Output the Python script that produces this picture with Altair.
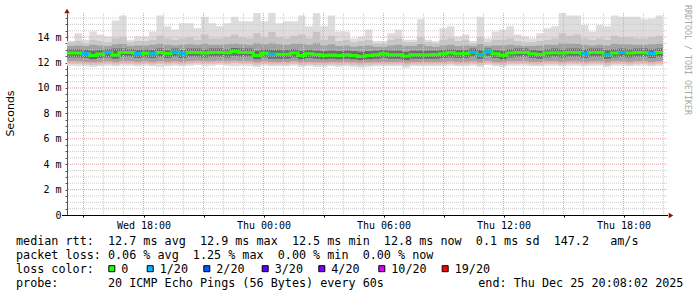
import altair as alt
import pandas as pd

# ---------------- data ----------------
# 80 consolidated time columns, Wed 14:10 .. Thu 20:00 (values in ms)
median_ms = [
    12.76, 12.76, 12.70, 12.56, 12.68, 12.80, 12.60, 12.80, 12.80, 12.70,
    12.74, 12.70, 12.80, 12.72, 12.82, 12.70, 12.80, 12.80, 12.76, 12.80,
    12.80, 12.78, 12.86, 12.80, 12.80, 12.56, 12.74, 12.65, 12.66, 12.66,
    12.75, 12.55, 12.70, 12.64, 12.55, 12.60, 12.56, 12.62, 12.56, 12.48,
    12.56, 12.62, 12.70, 12.62, 12.62, 12.52, 12.62, 12.62, 12.62, 12.64,
    12.70, 12.78, 12.70, 12.72, 12.80, 12.62, 12.85, 12.70, 12.58, 12.75,
    12.80, 12.80, 12.70, 12.64, 12.75, 12.78, 12.75, 12.80, 12.80, 12.70,
    12.80, 12.80, 12.62, 12.75, 12.80, 12.75, 12.80, 12.78, 12.72, 12.80,
]
# lost pings out of 20 per column
loss_20 = [
    0, 0, 1, 0, 0, 1, 0, 0, 0, 1,
    0, 1, 0, 0, 1, 1, 0, 0, 0, 0,
    0, 0, 0, 0, 0, 0, 0, 1, 0, 0,
    0, 0, 0, 0, 0, 0, 0, 0, 0, 0,
    0, 0, 0, 0, 0, 0, 0, 0, 0, 0,
    0, 0, 0, 0, 1, 1, 1, 0, 0, 0,
    0, 0, 0, 0, 0, 0, 0, 0, 0, 1,
    0, 0, 1, 0, 1, 0, 0, 0, 1, 0,
]
smoke_top = [
    13.7, 14.3, 13.8, 14.45, 14.2, 14.05, 15.3, 15.7, 13.8, 14.05,
    14.05, 14.45, 15.7, 14.85, 14.6, 15.1, 15.1, 14.7, 15.6, 15.1,
    14.85, 15.1, 15.6, 15.25, 15.25, 15.9, 15.25, 15.9, 15.1, 15.25,
    15.25, 15.7, 14.85, 15.9, 14.85, 15.7, 14.45, 14.45, 13.9, 14.05,
    14.6, 13.7, 13.7, 14.3, 14.6, 13.8, 13.8, 15.4, 13.8, 13.7,
    14.7, 14.85, 14.05, 14.2, 13.7, 15.6, 13.9, 14.45, 14.6, 14.85,
    14.2, 14.05, 13.9, 14.3, 14.7, 14.85, 15.9, 15.7, 15.7, 14.95,
    14.45, 14.95, 14.85, 15.7, 15.6, 15.6, 15.6, 15.4, 15.45, 15.7,
]
smoke_up3 = [
    13.6, 13.7, 13.5, 13.8, 13.7, 13.6, 13.9, 14.0, 13.6, 13.7,
    13.7, 13.8, 14.1, 13.9, 13.8, 13.9, 14.0, 13.8, 14.2, 13.9,
    13.9, 14.0, 14.2, 14.0, 13.9, 14.3, 14.0, 14.4, 14.0, 13.9,
    14.1, 14.2, 13.9, 14.4, 13.8, 14.1, 13.7, 13.8, 13.6, 13.7,
    13.8, 13.5, 13.5, 13.8, 13.9, 13.6, 13.6, 14.0, 13.6, 13.5,
    13.8, 13.9, 13.7, 13.8, 13.5, 14.0, 13.6, 13.8, 13.8, 13.9,
    13.7, 13.6, 13.6, 13.7, 13.8, 13.9, 14.3, 14.1, 14.2, 13.9,
    13.8, 13.9, 13.8, 14.1, 14.0, 14.0, 13.9, 13.9, 14.0, 14.1,
]
smoke_up2 = [
    13.3, 13.35, 13.3, 13.4, 13.35, 13.3, 13.45, 13.5, 13.3, 13.35,
    13.35, 13.4, 13.5, 13.4, 13.35, 13.4, 13.45, 13.4, 13.5, 13.4,
    13.4, 13.45, 13.5, 13.45, 13.4, 13.55, 13.45, 13.55, 13.45, 13.4,
    13.5, 13.5, 13.4, 13.55, 13.35, 13.45, 13.3, 13.35, 13.25, 13.3,
    13.35, 13.25, 13.25, 13.35, 13.4, 13.3, 13.3, 13.45, 13.3, 13.25,
    13.35, 13.4, 13.3, 13.35, 13.3, 13.45, 13.3, 13.35, 13.35, 13.4,
    13.35, 13.3, 13.3, 13.35, 13.4, 13.4, 13.55, 13.5, 13.5, 13.4,
    13.35, 13.4, 13.35, 13.5, 13.45, 13.45, 13.4, 13.4, 13.45, 13.5,
]
smoke_up1 = [
    13.05, 13.05, 13.0, 12.95, 13.0, 13.05, 13.1, 13.1, 13.05, 13.0,
    13.05, 13.0, 13.1, 13.0, 13.1, 13.0, 13.1, 13.1, 13.05, 13.1,
    13.1, 13.05, 13.15, 13.1, 13.1, 12.95, 13.05, 13.0, 13.0, 13.0,
    13.05, 12.95, 13.0, 12.95, 12.9, 12.95, 12.9, 12.95, 12.9, 12.85,
    12.9, 12.95, 13.0, 12.95, 12.95, 12.85, 12.95, 12.95, 12.95, 12.95,
    13.0, 13.05, 13.0, 13.0, 13.1, 13.0, 13.1, 13.0, 12.95, 13.05,
    13.1, 13.1, 13.0, 12.95, 13.05, 13.1, 13.05, 13.1, 13.1, 13.05,
    13.1, 13.1, 13.0, 13.05, 13.1, 13.05, 13.1, 13.1, 13.05, 13.1,
]
smoke_lo1 = [
    12.4, 12.4, 12.35, 12.25, 12.35, 12.4, 12.3, 12.45, 12.45, 12.35,
    12.4, 12.35, 12.45, 12.35, 12.45, 12.35, 12.45, 12.45, 12.4, 12.45,
    12.45, 12.4, 12.5, 12.45, 12.45, 12.25, 12.4, 12.3, 12.3, 12.3,
    12.4, 12.25, 12.35, 12.3, 12.25, 12.3, 12.25, 12.3, 12.25, 12.2,
    12.25, 12.3, 12.35, 12.3, 12.3, 12.2, 12.3, 12.3, 12.3, 12.3,
    12.35, 12.4, 12.35, 12.35, 12.45, 12.3, 12.5, 12.35, 12.25, 12.4,
    12.45, 12.45, 12.35, 12.3, 12.4, 12.45, 12.4, 12.45, 12.45, 12.35,
    12.45, 12.45, 12.3, 12.4, 12.45, 12.4, 12.45, 12.45, 12.35, 12.45,
]
smoke_lo2 = [
    12.1, 12.1, 12.05, 12.0, 12.05, 12.1, 12.05, 12.1, 12.1, 12.05,
    12.1, 12.05, 12.1, 12.05, 12.1, 12.05, 12.1, 12.15, 12.1, 12.1,
    12.15, 12.1, 12.15, 12.1, 12.1, 12.0, 12.1, 12.05, 12.05, 12.05,
    12.1, 12.0, 12.05, 12.0, 12.0, 12.05, 12.0, 12.05, 12.0, 11.95,
    12.0, 12.05, 12.05, 12.05, 12.05, 11.95, 12.05, 12.05, 12.05, 12.05,
    12.05, 12.1, 12.05, 12.05, 12.1, 12.0, 12.15, 12.05, 12.0, 12.1,
    12.1, 12.1, 12.05, 12.05, 12.1, 12.1, 12.05, 12.1, 12.1, 12.05,
    12.1, 12.1, 12.0, 12.1, 12.1, 12.05, 12.1, 12.1, 12.05, 12.1,
]
smoke_lo3 = [
    11.9, 11.9, 11.85, 11.8, 11.85, 11.9, 11.85, 11.9, 11.9, 11.85,
    11.9, 11.85, 11.9, 11.85, 11.9, 11.85, 11.9, 11.95, 11.9, 11.9,
    11.95, 11.9, 11.95, 11.9, 11.9, 11.8, 11.9, 11.85, 11.85, 11.85,
    11.9, 11.8, 11.85, 11.8, 11.8, 11.85, 11.8, 11.85, 11.8, 11.75,
    11.8, 11.85, 11.85, 11.85, 11.85, 11.75, 11.85, 11.85, 11.85, 11.85,
    11.85, 11.9, 11.85, 11.85, 11.9, 11.8, 11.95, 11.85, 11.8, 11.9,
    11.9, 11.9, 11.85, 11.85, 11.9, 11.9, 11.85, 11.9, 11.9, 11.85,
    11.9, 11.9, 11.8, 11.9, 11.9, 11.85, 11.9, 11.9, 11.85, 11.9,
]
smoke_bot = [
    11.75, 11.7, 11.7, 11.65, 11.7, 11.75, 11.7, 11.75, 11.75, 11.7,
    11.75, 11.7, 11.65, 11.7, 11.75, 11.7, 11.75, 11.8, 11.7, 11.75,
    11.8, 11.75, 11.7, 11.75, 11.7, 11.65, 11.75, 11.7, 11.7, 11.7,
    11.75, 11.65, 11.7, 11.65, 11.65, 11.7, 11.65, 11.7, 11.65, 11.6,
    11.65, 11.7, 11.7, 11.7, 11.7, 11.6, 11.7, 11.7, 11.7, 11.7,
    11.7, 11.75, 11.7, 11.7, 11.75, 11.65, 11.8, 11.7, 11.65, 11.75,
    11.75, 11.75, 11.7, 11.7, 11.75, 11.75, 11.7, 11.75, 11.75, 11.7,
    11.75, 11.75, 11.65, 11.75, 11.75, 11.7, 11.75, 11.75, 11.7, 11.75,
]

x_tick_hours = [15, 18, 21, 24, 27, 30, 33, 36, 39, 42]   # hours since Wed 00:00
y_tick_ms = [i * 0.5 for i in range(32)]

legend_labels = ["0", "1/20", "2/20", "3/20", "4/20", "10/20", "19/20"]
legend_colors = ["#26ff00", "#00b8ff", "#0059ff", "#5e00ff", "#7e00ff", "#dd00ff", "#ff0000"]

stats_line1 = "median rtt:  12.7 ms avg  12.9 ms max  12.5 ms min  12.8 ms now  0.1 ms sd  147.2   am/s"
stats_line2 = "packet loss: 0.06 % avg  1.25 % max  0.00 % min  0.00 % now"
loss_title = "loss color:"
probe_line = "probe:       20 ICMP Echo Pings (56 Bytes) every 60s"
end_line = "end: Thu Dec 25 20:08:02 2025"
y_title = "Seconds"
credit = "RRDTOOL / TOBI OETIKER"

n = len(median_ms)
for arr in (loss_20, smoke_top, smoke_up3, smoke_up2, smoke_up1,
            smoke_lo1, smoke_lo2, smoke_lo3, smoke_bot):
    assert len(arr) == n

# ---------------- layout ----------------
PL, PT, W, H = 67, 13, 600, 202
START_H = 14.175
SPAN_H = 30.0
COL_H = 0.3725
MONO = "DejaVu Sans Mono"

t0 = [START_H + i * COL_H for i in range(n)]
t1 = [t + COL_H for t in t0]
t_steps = t0 + [t1[-1]]

xs = alt.Scale(domain=[START_H, START_H + SPAN_H], nice=False, zero=False)
ys = alt.Scale(domain=[0, 15.9], nice=False, zero=True)

xaxis = alt.Axis(
    values=x_tick_hours, title=None, grid=False, domain=False,
    tickSize=2, tickColor="#000000", labelFont=MONO, labelFontSize=10,
    labelColor="#000000", labelPadding=3, labelOverlap=False, labelFlush=False,
    labelExpr="datum.value % 6 == 0 ? (datum.value < 24 ? 'Wed ' : 'Thu ') + "
              "(datum.value % 24 < 10 ? '0' : '') + (datum.value % 24) + ':00' : ''",
)
yaxis = alt.Axis(
    values=y_tick_ms, title=None, grid=False, domain=True, domainColor="#555555",
    tickSize=2, tickColor="#555555", labelFont=MONO, labelFontSize=10,
    labelColor="#000000", labelPadding=4, labelOverlap=False, labelFlush=False,
    labelExpr="datum.value % 2 == 0 ? (datum.value == 0 ? '0' : datum.value + ' m') : ''",
)


def X(f):
    return alt.X(f"{f}:Q", scale=xs, axis=xaxis)


def Y(f):
    return alt.Y(f"{f}:Q", scale=ys, axis=yaxis)


def band(lo, hi, color):
    df = pd.DataFrame({"t": t_steps, "lo": lo + [lo[-1]], "hi": hi + [hi[-1]]})
    return alt.Chart(df).mark_area(interpolate="step-after", color=color).encode(
        x=X("t"), y=Y("lo"), y2=alt.Y2("hi"))


layers = [
    band(smoke_bot, smoke_top, "#dddddd"),
    band(smoke_lo3, smoke_up3, "#c6c6c6"),
    band(smoke_lo2, smoke_up2, "#a2a2a2"),
    band(smoke_lo1, smoke_up1, "#6c6c6c"),
]

# grid
hours = list(range(15, 45))
vmin = pd.DataFrame({"h": [h for h in hours if h % 3 != 0]})
vmaj = pd.DataFrame({"h": [h for h in hours if h % 3 == 0]})
hmin = pd.DataFrame({"v": [v for v in y_tick_ms if v > 0 and v % 2 != 0]})
hmaj = pd.DataFrame({"v": [v for v in y_tick_ms if v > 0 and v % 2 == 0]})
layers += [
    alt.Chart(vmin).mark_rule(color="#cccccc", strokeDash=[1, 1], strokeWidth=1).encode(x=X("h")),
    alt.Chart(hmin).mark_rule(color="#cccccc", strokeDash=[1, 1], strokeWidth=1).encode(y=Y("v")),
    alt.Chart(vmaj).mark_rule(color="#e6a4a4", strokeDash=[1, 1], strokeWidth=1).encode(x=X("h")),
    alt.Chart(hmaj).mark_rule(color="#e6a4a4", strokeDash=[1, 1], strokeWidth=1).encode(y=Y("v")),
]

# median line
med_df = pd.DataFrame({"t": t_steps, "m": median_ms + [median_ms[-1]]})
layers.append(alt.Chart(med_df).mark_line(interpolate="step-after", color=legend_colors[0],
                                          strokeWidth=3).encode(x=X("t"), y=Y("m")))
loss_idx = [0, 1, 2, 3, 4, 10, 19]
seg = pd.DataFrame({
    "t0": [t0[i] for i in range(n) if loss_20[i] > 0],
    "t1": [t1[i] for i in range(n) if loss_20[i] > 0],
    "m": [median_ms[i] for i in range(n) if loss_20[i] > 0],
    "c": [legend_colors[loss_idx.index(loss_20[i])] for i in range(n) if loss_20[i] > 0],
})
layers.append(alt.Chart(seg).mark_rule(strokeWidth=3).encode(
    x=X("t0"), x2=alt.X2("t1"), y=Y("m"), color=alt.Color("c:N", scale=None)))

one = alt.Data(values=[{}])

# axis line & arrows
layers.append(alt.Chart(one).mark_rule(color="#000000", strokeWidth=1).encode(
    x=alt.value(-5), x2=alt.value(W + 1), y=alt.value(H + 0.5)))
layers.append(alt.Chart(one).mark_point(shape="triangle-up", filled=True, size=28,
                                        color="#8b1010", opacity=1).encode(
    x=alt.value(0), y=alt.value(-2)))
layers.append(alt.Chart(one).mark_point(shape="triangle-right", filled=True, size=28,
                                        color="#8b1010", opacity=1).encode(
    x=alt.value(W + 4), y=alt.value(H + 0.5)))


def nb(s):
    return s.replace(" ", "\u00a0")


def text(s, x, y, font=MONO, size=11.75, color="#000000", angle=0, align="left"):
    return alt.Chart(one).mark_text(text=nb(s), font=font, fontSize=size, color=color,
                                    align=align, baseline="middle", angle=angle).encode(
        x=alt.value(x - PL), y=alt.value(y - PT))


layers += [
    text(stats_line1, 16, 241),
    text(stats_line2, 16, 255),
    text(loss_title, 16, 269),
    text(probe_line, 16, 283),
    text(end_line, 478.3, 283),
    text(y_title, 11, 113.5, font="DejaVu Sans", size=11, angle=270, align="center"),
    text(credit, 686.5, 5, size=8.3, color="#a8a8a8", angle=90),
]

sq_left = [108.3, 146.7, 203.3, 261.7, 318.3, 378.3, 441.7]
for lab, col, xl in zip(legend_labels, legend_colors, sq_left):
    layers.append(alt.Chart(one).mark_square(size=36, filled=True, fill=col, stroke="#000000",
                                             strokeWidth=1, opacity=1).encode(
        x=alt.value(xl + 3.5 - PL), y=alt.value(268.7 - PT)))
    layers.append(text(lab, xl + 13, 269))

chart = alt.layer(*layers).properties(
    width=W, height=H,
    padding={"left": PL, "top": PT, "right": 697 - PL - W, "bottom": 297 - PT - H},
    autosize=alt.AutoSizeParams(type="none"),
    background="#ffffff",
).configure_view(stroke=None)

chart.save("out.html", embed_options={"renderer": "svg", "actions": False})
